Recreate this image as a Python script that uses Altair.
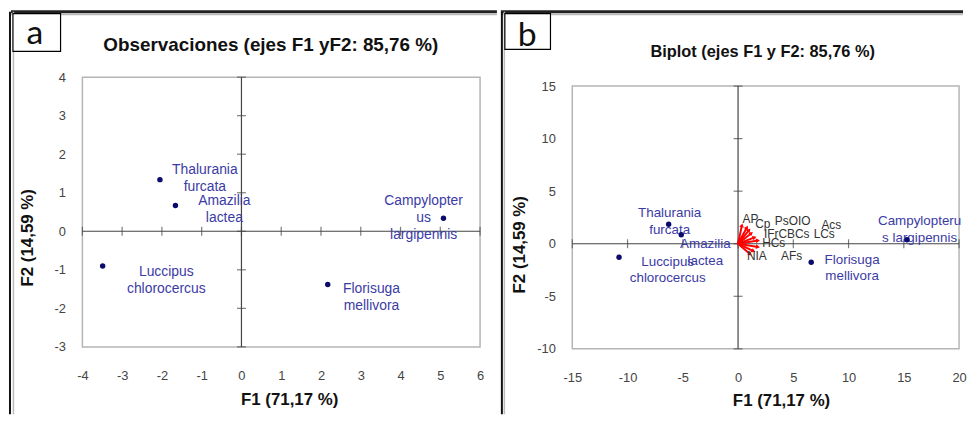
import math
import altair as alt
import pandas as pd

# ---------------- data ----------------
species = ["Thalurania furcata", "Amazilia lactea", "Campylopterus largipennis",
           "Luccipus chlorocercus", "Florisuga mellivora"]

# panel a : observations
label_a = ["Thalurania\nfurcata", "Amazilia\nlactea", "Campylopter\nus\nlargipennis",
           "Luccipus\nchlorocercus", "Florisuga\nmellivora"]
obs_f1 = [-2.05, -1.66, 5.08, -3.49, 2.17]
obs_f2 = [1.34, 0.67, 0.34, -0.90, -1.38]
label_a_x = [-0.92, -0.43, 4.58, -1.89, 3.27]
label_a_y = [1.58, 0.78, 0.79, -1.07, -1.50]

# panel b : biplot
label_b = ["Thalurania\nfurcata", "Amazilia\nlactea", "Campylopteru\ns largipennis",
           "Luccipus\nchlorocercus", "Florisuga\nmellivora"]
bip_f1 = [-6.28, -5.14, 15.29, -10.77, 6.62]
bip_f2 = [1.86, 0.85, 0.38, -1.29, -1.76]
label_b_x = [-6.19, -2.96, 16.43, -6.37, 10.32]
label_b_y = [2.92, 0.0, 2.17, -1.70, -1.51]

variables = ["AP", "Cp", "PsOIO", "Acs", "IFrCBCs", "LCs", "HCs", "AFs", "NIA"]
var_f1 = [0.35, 0.8, 1.0, 1.2, 1.5, 1.8, 1.8, 1.4, 1.1]
var_f2 = [1.75, 1.55, 1.3, 1.0, 0.6, 0.3, -0.3, -0.7, -1.0]
var_lab_x = [1.12, 2.24, 4.94, 8.44, 4.4, 7.8, 3.23, 4.85, 1.7]
var_lab_y = [2.36, 1.89, 2.12, 1.79, 0.94, 0.94, 0.09, -1.13, -1.13]

ticks_a_x = [-4, -3, -2, -1, 0, 1, 2, 3, 4, 5, 6]
ticks_a_y = [-3, -2, -1, 0, 1, 2, 3, 4]
ticks_b_x = [-15, -10, -5, 0, 5, 10, 15, 20]
ticks_b_y = [-10, -5, 0, 5, 10, 15]

FONT = "Liberation Sans"
PT_COLOR = "#0b0b6e"
LAB_COLOR = "#3b3ba5"
FRAME = "#b5b5b5"
one = pd.DataFrame({"k": [0]})


def vrule(x, y, y2, color, width):
    return alt.Chart(one).mark_rule(color=color, strokeWidth=width).encode(
        x=alt.value(x), y=alt.value(y), y2=alt.value(y2))


def hrule(x, x2, y, color, width):
    return alt.Chart(one).mark_rule(color=color, strokeWidth=width).encode(
        x=alt.value(x), x2=alt.value(x2), y=alt.value(y))


def box(x, x2, y, y2):
    return alt.Chart(one).mark_rect(fill="white", stroke="black", strokeWidth=1.2).encode(
        x=alt.value(x), x2=alt.value(x2), y=alt.value(y), y2=alt.value(y2))


def text(t, x, y, size, weight="normal", angle=0, font=FONT, baseline="middle", color="#111111"):
    return alt.Chart(one).mark_text(text=t, font=font, fontSize=size, fontWeight=weight,
                                    angle=angle, align="center", baseline=baseline,
                                    color=color).encode(x=alt.value(x), y=alt.value(y))


def panel(f1, f2, labs, lx, ly, xdom, ydom, xt, yt, w, h, lab_size, top_gap=0, extra=None, deco=None):
    # top_gap: empty pixels kept above the plot frame inside the group
    ytop = ydom[1] + top_gap * (ydom[1] - ydom[0]) / h
    xs = alt.Scale(domain=xdom, nice=False, zero=False)
    ys = alt.Scale(domain=[ydom[0], ytop], nice=False, zero=False)
    ax = alt.Axis(values=xt, title=None, labelPadding=23, orient="bottom", labelFlush=False,
                  labelExpr="'' + datum.value")
    ay = alt.Axis(values=yt, title=None, labelPadding=17, orient="left", labelFlush=False,
                  labelExpr="'' + datum.value")

    def X(f):
        return alt.X(f, scale=xs, axis=ax)

    def Y(f):
        return alt.Y(f, scale=ys, axis=ay)

    df = pd.DataFrame({"lab": labs, "f1": f1, "f2": f2, "lx": lx, "ly": ly})
    fr = pd.DataFrame({"x1": [xdom[0]], "x2": [xdom[1]], "y1": [ydom[0]], "y2": [ydom[1]]})
    hz = pd.DataFrame({"a": [xdom[0]], "b": [xdom[1]], "z": [0]})
    vz = pd.DataFrame({"a": [ydom[0]], "b": [ydom[1]], "z": [0]})
    txd = pd.DataFrame({"t": xt, "z": [0] * len(xt)})
    tyd = pd.DataFrame({"t": yt, "z": [0] * len(yt)})

    frame = alt.Chart(fr).mark_rect(fill="transparent", stroke=FRAME, strokeWidth=1.5).encode(
        x=X("x1:Q"), x2="x2:Q", y=Y("y1:Q"), y2="y2:Q")
    zero_h = alt.Chart(hz).mark_rule(color="#444444", strokeWidth=1.2).encode(
        x=X("a:Q"), x2="b:Q", y=Y("z:Q"))
    zero_v = alt.Chart(vz).mark_rule(color="#444444", strokeWidth=1.2).encode(
        y=Y("a:Q"), y2="b:Q", x=X("z:Q"))
    tick_x = alt.Chart(txd).mark_tick(orient="vertical", size=9, thickness=1.2, color="#444444").encode(
        x=X("t:Q"), y=Y("z:Q"))
    tick_y = alt.Chart(tyd).mark_tick(orient="horizontal", size=9, thickness=1.2, color="#444444").encode(
        y=Y("t:Q"), x=X("z:Q"))

    pts = alt.Chart(df).mark_circle(size=30, color=PT_COLOR, opacity=1).encode(
        x=X("f1:Q"), y=Y("f2:Q"))
    labels = alt.Chart(df).mark_text(font=FONT, fontSize=lab_size, color=LAB_COLOR, lineBreak="\n",
                                     align="center", baseline="middle", lineHeight=17).encode(
        x=X("lx:Q"), y=Y("ly:Q"), text="lab:N")
    layers = [frame, zero_h, zero_v, tick_x, tick_y] + (extra(X, Y) if extra else []) + [labels, pts] + (deco or [])
    return alt.layer(*layers).properties(width=w, height=h + top_gap,
                                         view=alt.ViewBackground(stroke="transparent"))


# ---- decorations panel a (plot origin at page 82,76)
deco_a = [
    hrule(-72, 418, -66, "#222222", 3),
    hrule(-72, 418, -63.5, "#bbbbbb", 2),
    vrule(-73, -66, 340, "#111111", 2),
    vrule(-69.5, -66, 340, "#bbbbbb", 1.5),
    box(-70, -22, -64, -26),
    text("a", -48, -33, 34, font="Lato", baseline="alphabetic"),
    text("Observaciones (ejes F1 yF2: 85,76 %)", 190, -32, 19, "bold"),
    text("F2 (14,59 %)", -55, 162, 17, "bold", angle=270),
    text("F1 (71,17 %)", 209, 326, 17, "bold"),
]

# ---- decorations panel b (group origin at page 572,76; plot frame starts at 85)
deco_b = [
    hrule(-72, 394, -66, "#222222", 3),
    hrule(-72, 394, -63.5, "#bbbbbb", 2),
    vrule(-71, -66, 340, "#111111", 2),
    vrule(-68.5, -66, 340, "#bbbbbb", 1.5),
    box(-68, -22, -64, -28),
    text("b", -45.5, -31, 34, font="Lato", baseline="alphabetic"),
    text("Biplot (ejes F1 y F2: 85,76 %)", 192, -25, 16.5, "bold"),
    text("F2 (14,59 %)", -53, 169, 17, "bold", angle=270),
    text("F1 (71,17 %)", 211, 327, 17, "bold"),
]


def biplot_vars(X, Y):
    ang = [math.degrees(math.atan2(a * 11.14, b * 10.6)) % 360 for a, b in zip(var_f1, var_f2)]
    dv = pd.DataFrame({"v": variables, "f1": var_f1, "f2": var_f2, "o": [0] * len(variables),
                       "lx": var_lab_x, "ly": var_lab_y, "ang": ang})
    arrows = alt.Chart(dv).mark_rule(color="#ff0000", strokeWidth=2).encode(
        x=X("o:Q"), y=Y("o:Q"), x2="f1:Q", y2="f2:Q")
    heads = alt.Chart(dv).mark_point(shape="triangle-up", filled=True, size=22, color="#ff0000",
                                     opacity=1).encode(
        x=X("f1:Q"), y=Y("f2:Q"), angle=alt.Angle("ang:Q", scale=None))
    vlabs = alt.Chart(dv).mark_text(font=FONT, fontSize=12, color="#333333", align="center",
                                    baseline="middle").encode(
        x=X("lx:Q"), y=Y("ly:Q"), text="v:N")
    return [arrows, heads, vlabs]


panel_a = panel(obs_f1, obs_f2, label_a, label_a_x, label_a_y, [-4, 6], [-3, 4],
                ticks_a_x, ticks_a_y, 401, 272, 14, deco=deco_a)
panel_b = panel(bip_f1, bip_f2, label_b, label_b_x, label_b_y, [-15, 20], [-10, 15],
                ticks_b_x, ticks_b_y, 390, 265, 13.5, top_gap=9, extra=biplot_vars, deco=deco_b)

chart = alt.hconcat(panel_a, panel_b, spacing=0).properties(
    padding=0, background="white"
).configure_axis(
    domain=False, ticks=False, tickSize=0, grid=False, labelFont=FONT, labelFontSize=13,
    labelColor="#444444")

chart.save("out.html", embed_options={"renderer": "svg", "actions": False})
